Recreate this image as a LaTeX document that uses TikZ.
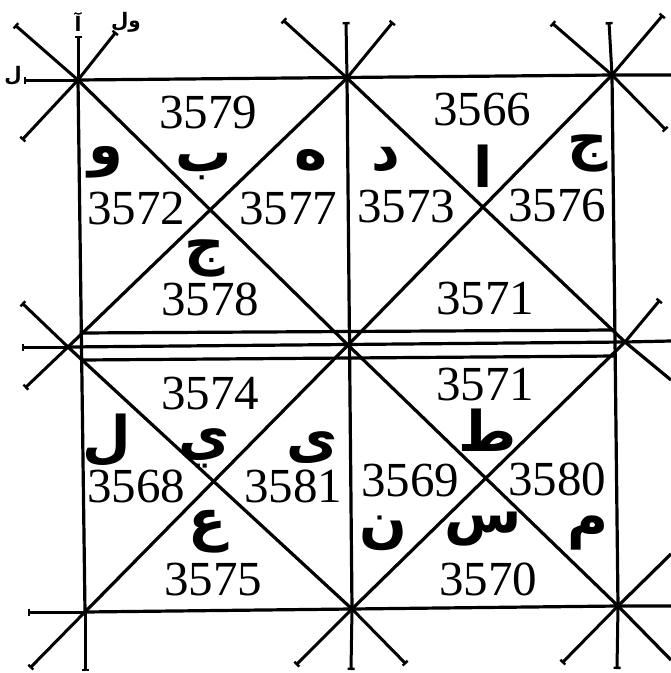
\documentclass[tikz,border=0pt]{standalone}
\usepackage{fontspec}
\setmainfont{Liberation Serif}
\newfontfamily\arabicfont[Script=Arabic]{DejaVu Sans}
\TeXXeTstate=1
\usetikzlibrary{arrows.meta}

\newcommand{\harf}[1]{{\arabicfont\beginR #1\endR}}

\begin{document}
\begin{tikzpicture}[x=1pt, y=-1pt,
  edge/.style={line width=3.2pt},
  ray/.style={line width=3pt, -{Bar[width=7pt, line width=2.4pt]}},
  num/.style={font=\fontsize{49}{49}\selectfont, inner sep=0pt},
  letter/.style={font=\fontsize{56}{56}\selectfont\bfseries, inner sep=0pt},
  small/.style={font=\fontsize{20}{20}\selectfont\bfseries, inner sep=0pt}
]
  \useasboundingbox (0,0) rectangle (671,673);

  \coordinate (tl) at (78,80);
  \coordinate (tm) at (347,78);
  \coordinate (tr) at (612,75);
  \coordinate (ml) at (68,347);
  \coordinate (mm) at (348,345);
  \coordinate (mr) at (625,342);
  \coordinate (bl) at (85,612);
  \coordinate (bm) at (352,609);
  \coordinate (br) at (618,606);

  \coordinate (upl) at (80,333);
  \coordinate (upr) at (615,330);
  \coordinate (lol) at (82,360);
  \coordinate (lor) at (616,356);

  \coordinate (tlL)  at (24,80);
  \coordinate (tlU)  at (78,36);
  \coordinate (tlUL) at (15,25);
  \coordinate (tlUR) at (116,32);
  \coordinate (tlDL) at (22,140);
  \coordinate (tmUL) at (283,20);
  \coordinate (tmU)  at (346,22);
  \coordinate (tmUR) at (393,22);
  \coordinate (trUL) at (552,23);
  \coordinate (trU)  at (609,22);
  \coordinate (trUR) at (663,15);
  \coordinate (trR)  at (671,75);
  \coordinate (trDR) at (666,130);
  \coordinate (mlL)  at (22,347);
  \coordinate (mlUL) at (22,303);
  \coordinate (mlDL) at (25,388);
  \coordinate (mrUR) at (660,300);
  \coordinate (mrR)  at (671,341);
  \coordinate (mrDR) at (671,380);
  \coordinate (blL)  at (28,612);
  \coordinate (blDL) at (30,668);
  \coordinate (blD)  at (85,671);
  \coordinate (bmDL) at (296,665);
  \coordinate (bmD)  at (351,670);
  \coordinate (bmDR) at (406,664);
  \coordinate (brDL) at (562,663);
  \coordinate (brD)  at (617,669);
  \coordinate (brDR) at (671,660);
  \coordinate (brUR) at (671,554);
  \coordinate (brR)  at (671,606);

  % frame
  \draw[edge] (tl) -- (tr) -- (trR);
  \draw[edge] (upl) -- (upr);
  \draw[edge] (ml) -- (mr) -- (mrR);
  \draw[edge] (lol) -- (lor);
  \draw[edge] (bl) -- (br) -- (brR);
  \draw[edge] (tl) -- (bl);
  \draw[edge] (tm) -- (bm);
  \draw[edge] (tr) -- (br);

  % diagonals
  \draw[edge] (tl) -- (mm) -- (br);
  \draw[edge] (tr) -- (mm) -- (bl);
  \draw[edge] (tm) -- (ml) -- (bm);
  \draw[edge] (tm) -- (mr) -- (bm);

  % rays
  \foreach \s/\e in {tl/tlL, tl/tlU, tl/tlUL, tl/tlUR, tl/tlDL,
                     tm/tmUL, tm/tmU, tm/tmUR,
                     tr/trUL, tr/trU, tr/trUR, tr/trDR,
                     ml/mlL, ml/mlUL, ml/mlDL,
                     mr/mrUR,
                     bl/blL, bl/blDL, bl/blD,
                     bm/bmDL, bm/bmD, bm/bmDR,
                     br/brDL, br/brD}
    \draw[ray] (\s) -- (\e);
  \draw[edge] (mr) -- (mrDR);
  \draw[edge] (br) -- (brDR);
  \draw[edge] (br) -- (brUR);

  \node[small] (sl)  at (13,76)  {\harf{ل}};
  \node[small] (sa)  at (78,22)  {\harf{آ}};
  \node[small] (swl) at (126,22) {\harf{ول}};

  % upper left cell
  \node[num]    (n3579) at (208,113) {3579};
  \node[letter] (hb)    at (204,167) {\harf{ب}};
  \node[letter] (hw)    at (106,162) {\harf{و}};
  \node[letter] (hh)    at (311,160) {\harf{ه}};
  \node[num]    (n3572) at (136,209) {3572};
  \node[num]    (n3577) at (288,209) {3577};
  \node[letter] (hj)    at (205,258) {\harf{ج}};
  \node[num]    (n3578) at (210,299) {3578};

  % upper right cell
  \node[num]    (n3566) at (482,110) {3566};
  \node[letter] (hd)    at (386,160) {\harf{د}};
  \node[letter] (ha)    at (483,166) {\harf{ا}};
  \node[letter] (hj2)   at (588,153) {\harf{ج}};
  \node[num]    (n3573) at (406,207) {3573};
  \node[num]    (n3576) at (557,206) {3576};
  \node[num]    (n3571) at (485,299) {3571};

  % lower left cell
  \node[num]    (n3574) at (210,394) {3574};
  \node[letter] (hy)    at (204,448) {\harf{ي}};
  \node[letter] (hl)    at (107,440) {\harf{ل}};
  \node[letter] (hk)    at (312,448) {\harf{ى}};
  \node[num]    (n3568) at (136,486) {3568};
  \node[num]    (n3581) at (293,486) {3581};
  \node[letter] (ha2)   at (208,532) {\harf{ع}};
  \node[num]    (n3575) at (213,580) {3575};

  % lower right cell
  \node[num]    (n3571b) at (485,385) {3571};
  \node[letter] (ht)     at (488,430) {\harf{ط}};
  \node[num]    (n3569)  at (410,481) {3569};
  \node[num]    (n3580)  at (557,479) {3580};
  \node[letter] (hn)     at (383,533) {\harf{ن}};
  \node[letter] (hs)     at (483,529) {\harf{س}};
  \node[letter] (hm)     at (588,533) {\harf{م}};
  \node[num]    (n3570)  at (488,579) {3570};
\end{tikzpicture}
\end{document}
